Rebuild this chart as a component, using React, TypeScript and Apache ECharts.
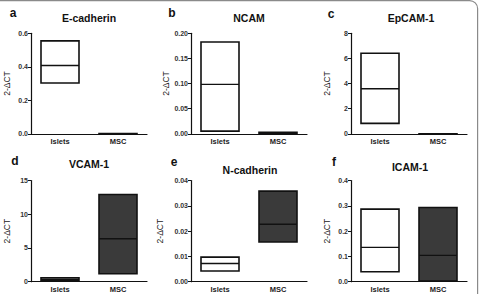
import React, { useEffect, useRef } from "react";
import * as echarts from "echarts";

// Groups on the category axis
const categories = ["Islets", "MSC"];

// Per panel: [min, median, max] for Islets and MSC (2-ΔCT)
const eCadherinIslets = [0.303, 0.408, 0.555];
const eCadherinMSC = [0.0, 0.001, 0.002];
const ncamIslets = [0.0054, 0.0984, 0.1827];
const ncamMSC = [0.0, 0.0015, 0.003];
const epcamIslets = [0.83, 3.59, 6.41];
const epcamMSC = [0.0002, 0.0003, 0.0004];
const vcamIslets = [0.15, 0.35, 0.57];
const vcamMSC = [1.18, 6.36, 12.93];
const nCadherinIslets = [0.0042, 0.0072, 0.0097];
const nCadherinMSC = [0.0157, 0.0227, 0.0358];
const icamIslets = [0.0395, 0.1357, 0.287];
const icamMSC = [0.003, 0.104, 0.2935];

// Panel titles, letters and y-axis scales
const panelTitles = ["E-cadherin", "NCAM", "EpCAM-1", "VCAM-1", "N-cadherin", "ICAM-1"];
const panelLetters = ["a", "b", "c", "d", "e", "f"];
const yMax = [0.6, 0.2, 8, 15, 0.04, 0.4];
const yInterval = [0.2, 0.05, 2, 5, 0.01, 0.1];
const yDecimals = [1, 2, 0, 0, 2, 1];

const panelData = [
  [eCadherinIslets, eCadherinMSC],
  [ncamIslets, ncamMSC],
  [epcamIslets, epcamMSC],
  [vcamIslets, vcamMSC],
  [nCadherinIslets, nCadherinMSC],
  [icamIslets, icamMSC],
];

const FONT = "'Liberation Sans', Arial, sans-serif";
const fills = ["#ffffff", "#3a3a3a"];

export default function App() {
  const ref = useRef<HTMLDivElement>(null);

  useEffect(() => {
    if (!ref.current) return;
    const chart = echarts.init(ref.current, null, { renderer: "svg" });

    const colX = [0, 160, 320];
    const rowTop = [33.3, 180.5];
    const rowH = [100.5, 101.2];
    const nameGaps = [20, 21, 20, 20, 27, 20];
    const titlePos = [
      [89, 18], [249, 18], [411, 18],
      [89, 164], [250, 170], [410, 167],
    ];
    const letterPos = [
      [13, 13], [172, 13], [331, 14],
      [15, 161], [174, 162], [334, 162],
    ];

    const grids: any[] = [];
    const xAxes: any[] = [];
    const yAxes: any[] = [];
    const series: any[] = [];
    const graphics: any[] = [];

    for (let i = 0; i < 6; i++) {
      const c = i % 3;
      const r = Math.floor(i / 3);
      grids.push({
        left: colX[c] + 31,
        top: rowTop[r],
        width: 116,
        height: rowH[r],
      });
      xAxes.push({
        type: "category",
        gridIndex: i,
        data: categories,
        axisLine: { lineStyle: { color: "#111", width: 1.2 } },
        axisTick: { alignWithLabel: true, length: 3, lineStyle: { color: "#111" } },
        axisLabel: {
          fontFamily: FONT,
          fontSize: 7.5,
          fontWeight: "bold",
          color: "#222",
          margin: 4,
        },
      });
      const dec = yDecimals[i];
      yAxes.push({
        type: "value",
        gridIndex: i,
        min: 0,
        max: yMax[i],
        interval: yInterval[i],
        name: "2-ΔCT",
        nameLocation: "middle",
        nameGap: nameGaps[i],
        nameRotate: 90,
        nameTextStyle: { fontFamily: FONT, fontSize: 8.5, color: "#222" },
        splitLine: { show: false },
        axisLine: { show: true, lineStyle: { color: "#111", width: 1.2 } },
        axisTick: { show: true, length: 3, lineStyle: { color: "#111" } },
        axisLabel: {
          fontFamily: FONT,
          fontSize: 7,
          fontWeight: "bold",
          color: "#333",
          margin: 3,
          formatter: (v: number) => v.toFixed(dec),
        },
      });
      const data = panelData[i].map((vals, k) => [k, vals[0], vals[1], vals[2]]);
      series.push({
        type: "custom",
        xAxisIndex: i,
        yAxisIndex: i,
        data,
        renderItem: (params: any, api: any) => {
          const k = api.value(0);
          const lo = api.coord([k, api.value(1)]);
          const med = api.coord([k, api.value(2)]);
          const hi = api.coord([k, api.value(3)]);
          const w = 38;
          return {
            type: "group",
            children: [
              {
                type: "rect",
                shape: { x: lo[0] - w / 2, y: hi[1], width: w, height: lo[1] - hi[1] },
                style: { fill: fills[k], stroke: "#111", lineWidth: 1.6 },
              },
              {
                type: "line",
                shape: { x1: lo[0] - w / 2, y1: med[1], x2: lo[0] + w / 2, y2: med[1] },
                style: { stroke: "#111", lineWidth: 1.4 },
              },
            ],
          };
        },
      });
      graphics.push({
        type: "text",
        x: titlePos[i][0],
        y: titlePos[i][1],
        style: {
          text: panelTitles[i],
          font: `bold 10.5px ${FONT}`,
          fill: "#111",
          textAlign: "center",
          textVerticalAlign: "middle",
          align: "center",
          verticalAlign: "middle",
        },
      });
      graphics.push({
        type: "text",
        x: letterPos[i][0],
        y: letterPos[i][1],
        style: {
          text: panelLetters[i],
          font: `bold 12px ${FONT}`,
          fill: "#111",
          textAlign: "center",
          textVerticalAlign: "middle",
          align: "center",
          verticalAlign: "middle",
        },
      });
    }

    // Frame around the figure (only its top and right edges fall inside the page)
    graphics.push({
      type: "rect",
      shape: { x: -20, y: 0.6, width: 497.6, height: 400, r: 8 },
      style: { fill: "none", stroke: "#8a8a8a", lineWidth: 1.2 },
      silent: true,
    });

    chart.setOption({
      animation: false,
      backgroundColor: "#ffffff",
      grid: grids,
      xAxis: xAxes,
      yAxis: yAxes,
      series,
      graphic: graphics,
    });

    return () => chart.dispose();
  }, []);

  return (
    <div
      ref={ref}
      style={{ position: "fixed", left: 0, top: 0, width: 479, height: 294 }}
    />
  );
}
